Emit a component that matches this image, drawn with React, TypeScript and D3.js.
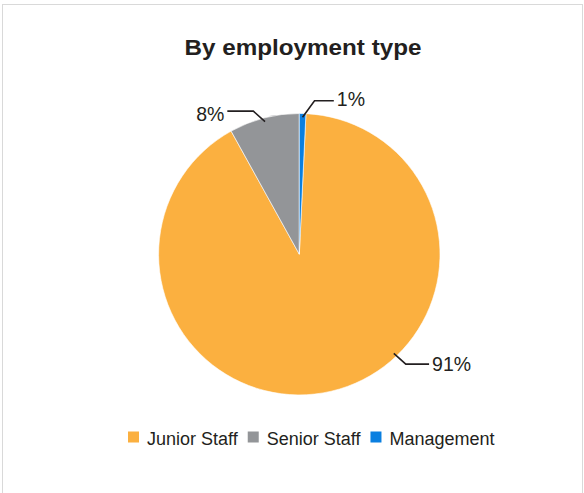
import React, { useEffect, useRef } from "react";
import * as d3 from "d3";

const categories = ["Junior Staff", "Senior Staff", "Management"];
const values = [91.2, 8.05, 0.75];
const valueLabels = ["91%", "8%", "1%"];
const colors = ["#FBB040", "#939598", "#0A7FE0"];
const title = "By employment type";

const W = 584;
const H = 493;

export default function App() {
  const ref = useRef<SVGSVGElement | null>(null);

  useEffect(() => {
    const svg = d3.select(ref.current);
    svg.selectAll("*").remove();

    svg
      .append("rect")
      .attr("x", 2.5)
      .attr("y", 4.5)
      .attr("width", 580)
      .attr("height", 520)
      .attr("fill", "#fff")
      .attr("stroke", "#d9d9d9")
      .attr("stroke-width", 1);

    svg
      .append("text")
      .attr("x", 303)
      .attr("y", 54.5)
      .attr("text-anchor", "middle")
      .attr("font-family", "Liberation Sans, Arial, sans-serif")
      .attr("font-weight", "bold")
      .attr("font-size", 21.5)
      .attr("textLength", 237)
      .attr("lengthAdjust", "spacingAndGlyphs")
      .attr("fill", "#231f20")
      .text(title);

    const cx = 299.3;
    const cy = 254.2;
    const r = 140.7;
    const total = d3.sum(values);
    const a0 = (2 * Math.PI * values[values.length - 1]) / total;

    const pie = d3
      .pie<number>()
      .sort(null)
      .value((d) => d)
      .startAngle(a0)
      .endAngle(a0 + 2 * Math.PI);
    const arcs = pie(values);
    const arc = d3.arc<d3.PieArcDatum<number>>().innerRadius(0).outerRadius(r);

    const g = svg.append("g").attr("transform", `translate(${cx},${cy})`);
    g.selectAll("path")
      .data(arcs)
      .join("path")
      .attr("d", arc as any)
      .attr("fill", (_, i) => colors[i])
      .attr("stroke", "#fff")
      .attr("stroke-width", 0.6);

    // leader line annotation layout
    const anchorAngles = [
      (136.4 * Math.PI) / 180,
      (arcs[1].startAngle + arcs[1].endAngle) / 2,
      (arcs[2].startAngle + arcs[2].endAngle) / 2,
    ];
    const elbow = [
      [12, 10.7],
      [-11.7, -10.4],
      [12, -16.5],
    ];
    const runLen = [23.3, -26, 19.3];
    const baseShift = [6.9, 9.6, 5.5];
    const rLead = 137;

    arcs.forEach((_, i) => {
      const a = anchorAngles[i];
      const sx = cx + rLead * Math.sin(a);
      const sy = cy - rLead * Math.cos(a);
      const ex = sx + elbow[i][0];
      const ey = sy + elbow[i][1];
      const fx = ex + runLen[i];
      svg
        .append("path")
        .attr("d", `M${sx},${sy}L${ex},${ey}L${fx},${ey}`)
        .attr("fill", "none")
        .attr("stroke", "#231f20")
        .attr("stroke-width", 1.6);
      const right = runLen[i] > 0;
      svg
        .append("text")
        .attr("x", right ? fx + 3 : fx - 3)
        .attr("y", ey + baseShift[i])
        .attr("text-anchor", right ? "start" : "end")
        .attr("font-family", "Liberation Sans, Arial, sans-serif")
        .attr("font-size", 19.5)
        .attr("fill", "#231f20")
        .text(valueLabels[i]);
    });

    // legend
    const legend = svg.append("g");
    let x = 128;
    const ly = 431.5;
    categories.forEach((c, i) => {
      legend
        .append("rect")
        .attr("x", x)
        .attr("y", ly)
        .attr("width", 11)
        .attr("height", 11)
        .attr("fill", colors[i]);
      const t = legend
        .append("text")
        .attr("x", x + 19)
        .attr("y", ly + 13.5)
        .attr("font-family", "Liberation Sans, Arial, sans-serif")
        .attr("font-size", 18)
        .attr("fill", "#231f20")
        .text(c);
      const w = (t.node() as SVGTextElement).getComputedTextLength();
      x = x + 19 + w + 10;
    });
  }, []);

  return (
    <svg
      ref={ref}
      width={W}
      height={H}
      style={{ position: "absolute", left: 0, top: 0, background: "#fff" }}
    />
  );
}
